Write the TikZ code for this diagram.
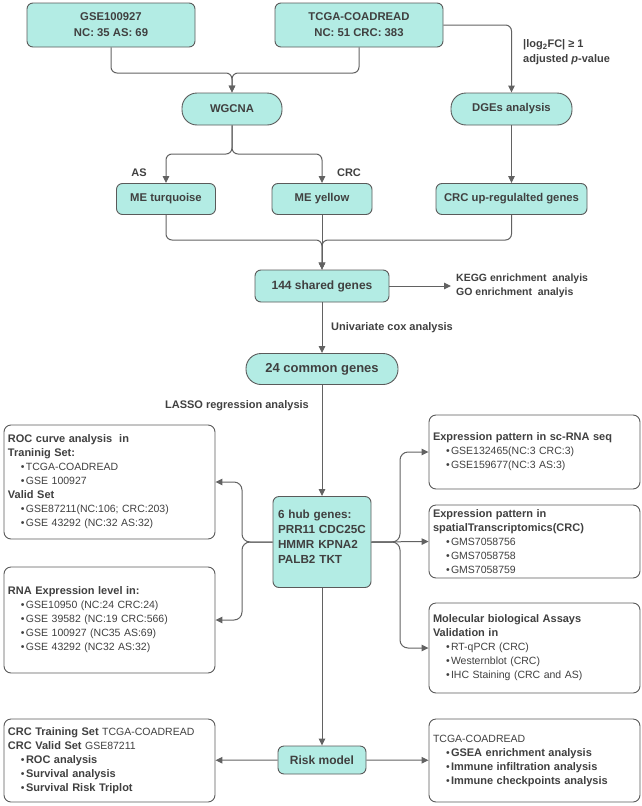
\documentclass[tikz,border=0pt]{standalone}
\usepackage{fontspec}
\setmainfont{Liberation Sans}
\usetikzlibrary{arrows.meta}
\definecolor{boxfill}{HTML}{B3ECE4}
\definecolor{boxline}{HTML}{5A5A5A}
\definecolor{txt}{HTML}{404040}
\definecolor{lin}{HTML}{626262}
\newcommand\bl[1]{\hspace*{13pt}\makebox[5pt][l]{\textbullet}#1}
\newcommand\ttl[1]{{\bfseries\fontsize{11}{14}\selectfont #1}}
\tikzset{
 mainbox/.style={draw=boxline, fill=boxfill, line width=0.9pt, rounded corners=6pt, text=txt,
   font=\bfseries\fontsize{11.3}{16}\selectfont, align=center, inner sep=0pt},
 pill/.style={mainbox, rounded corners=15pt},
 listbox/.style={draw=boxline, fill=white, line width=0.9pt, rounded corners=7pt, text=txt,
   font=\fontsize{10.5}{14}\selectfont, align=left, inner xsep=4pt, inner ysep=0pt,
   minimum width=211pt, text width=203pt},
 conn/.style={draw=lin, line width=1pt, rounded corners=6pt},
 arr/.style={conn, -{Triangle[length=7pt,width=6.5pt]}},
 lbl/.style={text=txt, font=\bfseries\fontsize{11}{15}\selectfont, inner sep=0pt, align=left},
}
\begin{document}
\begin{tikzpicture}[x=1pt,y=-1pt]
\useasboundingbox (0,0) rectangle (642,806);
% main boxes
\node[mainbox, minimum width=168pt, minimum height=44pt] (gse) at (111,25) {GSE100927\\NC: 35 AS: 69};
\node[mainbox, minimum width=168pt, minimum height=44pt] (tcga) at (359,25) {TCGA-COADREAD\\NC: 51 CRC: 383};
\node[pill, minimum width=100pt, minimum height=32pt] (wgcna) at (232,109) {WGCNA};
\node[pill, minimum width=121pt, minimum height=32pt] (dge) at (511.5,109) {DGEs analysis};
\node[mainbox, minimum width=99pt, minimum height=31pt] (met) at (166,199) {ME turquoise};
\node[mainbox, minimum width=100pt, minimum height=31pt] (mey) at (322,199) {ME yellow};
\node[mainbox, minimum width=151pt, minimum height=31pt] (crcup) at (511.5,199) {CRC up-regulalted genes};
\node[mainbox, minimum width=134pt, minimum height=32pt, font=\bfseries\fontsize{12}{14}\selectfont] (shared) at (322,286) {144 shared genes};
\node[pill, minimum width=152pt, minimum height=31pt, font=\bfseries\fontsize{13}{15}\selectfont] (common) at (322,369) {24 common genes};
\node[mainbox, minimum width=98pt, minimum height=91pt, align=left, text width=88pt, inner xsep=5pt,
  font=\bfseries\fontsize{11.7}{15}\selectfont] (hub) at (322,542) {6 hub genes:\\PRR11 CDC25C\\HMMR KPNA2\\PALB2 TKT\\[-4pt]~};
\node[mainbox, minimum width=88pt, minimum height=28pt, font=\bfseries\fontsize{12}{14}\selectfont] (risk) at (322,760) {Risk model};

% list boxes
\node[listbox, minimum height=114pt] (roc) at (109.5,482) {\ttl{ROC curve analysis\ \ in}\\\ttl{Traninig Set:}\\\bl{TCGA-COADREAD}\\\bl{GSE 100927}\\\ttl{Valid Set}\\\bl{GSE87211(NC:106; CRC:203)}\\\bl{GSE 43292 (NC:32 AS:32)}};
\node[listbox, minimum height=106pt] (rna) at (109.5,620) {\ttl{RNA Expression level in:}\\\bl{GSE10950 (NC:24 CRC:24)}\\\bl{GSE 39582 (NC:19 CRC:566)}\\\bl{GSE 100927 (NC35 AS:69)}\\\bl{GSE 43292 (NC32 AS:32)}};
\node[listbox, minimum height=74pt] (sc) at (534.5,452) {\ttl{Expression pattern in sc-RNA seq}\\\bl{GSE132465(NC:3 CRC:3)}\\\bl{GSE159677(NC:3 AS:3)}};
\node[listbox, minimum height=73pt] (spat) at (534.5,541.5) {\ttl{Expression pattern in}\\\ttl{spatialTranscriptomics(CRC)}\\\bl{GMS7058756}\\\bl{GMS7058758}\\\bl{GMS7058759}};
\node[listbox, minimum height=90pt] (mol) at (534.5,648) {\ttl{Molecular biological Assays}\\\ttl{Validation in}\\\bl{RT-qPCR (CRC)}\\\bl{Westernblot (CRC)}\\\bl{IHC Staining (CRC and AS)}};
\node[listbox, minimum height=83pt] (lbot) at (109.5,760.5) {\ttl{CRC Training Set} TCGA-COADREAD\\\ttl{CRC Valid Set} GSE87211\\\bl{\ttl{ROC analysis}}\\\bl{\ttl{Survival analysis}}\\\bl{\ttl{Survival Risk Triplot}}};
\node[listbox, minimum height=83pt] (rbot) at (534.5,760.5) {TCGA-COADREAD\\\bl{\ttl{GSEA enrichment analysis}}\\\bl{\ttl{Immune infiltration analysis}}\\\bl{\ttl{Immune checkpoints analysis}}};

% labels
\node[lbl, anchor=west] (fc) at (523,52.5) {|log\textsubscript{2}FC| ≥ 1\\adjusted \textit{p}-value};
\node[lbl] (as) at (139,173) {AS};
\node[lbl] (crc) at (349,173) {CRC};
\node[lbl, anchor=west, font=\bfseries\fontsize{10.5}{14}\selectfont] (kegg) at (456,286) {KEGG enrichment\ \ analyis\\GO enrichment\ \ analyis};
\node[lbl, anchor=west] (uni) at (331,328) {Univariate cox analysis};
\node[lbl, anchor=east] (lasso) at (309,406) {LASSO regression analysis};

% connectors
\draw[arr] (gse.south) |- (232,73) -- (wgcna.north);
\draw[arr] (tcga.south) |- (232,73) -- (wgcna.north);
\draw[arr] (tcga.east) -| (dge.north);
\draw[arr] (wgcna.south) -- (232,154) -| (met.north);
\draw[arr] (wgcna.south) -- (232,154) -| (mey.north);
\draw[arr] (dge) -- (crcup);
\draw[arr] (met.south) |- (322,240) -- (shared.north);
\draw[arr] (crcup.south) |- (322,240) -- (shared.north);
\draw[arr] (mey) -- (shared);
\coordinate (keggtip) at (451,286);
\draw[arr] (shared.east) -- (keggtip);
\draw[arr] (shared) -- (common);
\draw[arr] (common) -- (hub);
\draw[arr, rounded corners=8pt] (hub.west) -- (242,542) |- (roc.east);
\draw[arr, rounded corners=8pt] (hub.west) -- (242,542) |- (rna.east);
\draw[arr, rounded corners=8pt] (hub.east) -- (400,542) |- (sc.west);
\draw[arr] (hub.east) -- (spat.west);
\draw[arr, rounded corners=8pt] (hub.east) -- (400,542) |- (mol.west);
\draw[arr] (hub) -- (risk);
\draw[arr] (risk) -- (lbot);
\draw[arr] (risk) -- (rbot);
\end{tikzpicture}
\end{document}
